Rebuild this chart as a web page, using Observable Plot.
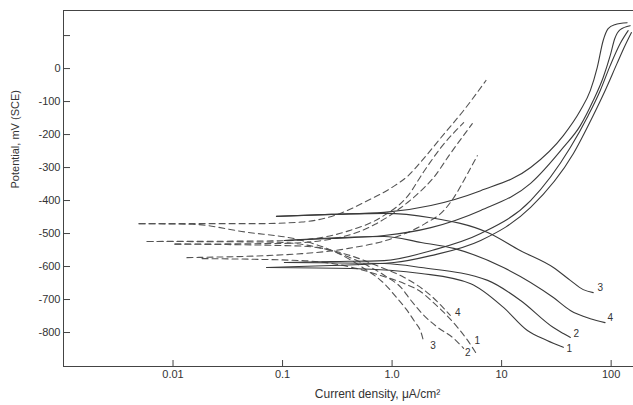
<!DOCTYPE html>
<html><head><meta charset="utf-8">
<script src="https://cdn.jsdelivr.net/npm/d3@7"></script>
<script src="https://cdn.jsdelivr.net/npm/@observablehq/plot@0.6"></script>
<style>body{margin:0;background:#fff;} svg{display:block}</style>
</head><body><div id="chart"></div>
<script>
// Tick values and labels
const xTicks = [0.01, 0.1, 1, 10, 100];
const xTickLabels = ["0.01", "0.1", "1.0", "10", "100"];
const yTicks = [-800, -700, -600, -500, -400, -300, -200, -100, 0, 100];

// Solid curves: [current density µA/cm², potential mV]
const solid1Anodic = [[0.0716,-603],[0.279,-597],[1.04,-588],[2.26,-567],[6.44,-521],[18.4,-421],[45.1,-258],[68.6,-142],[88,-67],[113,15],[134,70],[153,109]];
const solid1Cathodic = [[0.0716,-603],[0.424,-606],[1.84,-621],[5.23,-652],[10.4,-724],[17.2,-794],[26,-824],[36.6,-845]];
const solid2Anodic = [[0.104,-588],[0.279,-585],[0.846,-582],[2.26,-552],[6.44,-500],[18.4,-400],[42.4,-239],[61.8,-142],[79.4,-67],[98,9],[121,76],[143,115]];
const solid2Cathodic = [[0.104,-588],[0.846,-591],[1.84,-603],[7.46,-642],[14.9,-703],[29.7,-785],[36.6,-803],[42.4,-815]];
const solid3Anodic = [[0.088,-448],[0.279,-442],[0.846,-436],[2.26,-415],[6.44,-370],[18.4,-300],[36.6,-203],[52.3,-127],[64.5,-67],[74.6,3],[84.6,85],[93.9,121],[108,133],[140,139]];
const solid3Cathodic = [[0.088,-448],[0.279,-442],[0.846,-439],[2.26,-452],[7.46,-497],[14.9,-552],[29.7,-603],[42.4,-642],[55.6,-670],[68.6,-679]];
const solid4Anodic = [[0.104,-521],[0.279,-515],[0.846,-506],[2.26,-482],[6.44,-430],[18.4,-348],[36.6,-239],[52.3,-173],[68.6,-97],[84.6,-27],[98,39],[108,91],[121,118],[149,130]];
const solid4Cathodic = [[0.104,-521],[0.846,-509],[1.84,-527],[3.66,-545],[10.4,-603],[29.7,-694],[42.4,-733],[64.5,-758],[88,-770]];

// Dashed curves
const dashAAnodic = [[0.0049,-470],[0.06,-470],[0.15,-465],[0.3,-445],[0.6,-400],[1.0,-360],[1.4,-325],[1.95,-272],[3,-197],[4.5,-127],[7.2,-36]];
const dashBAnodic = [[0.0058,-524],[0.1,-522],[0.2,-515],[0.4,-492],[0.8,-450],[1.4,-385],[1.95,-312],[2.8,-239],[4.5,-164]];
const dashCAnodic = [[0.0104,-532],[0.1,-530],[0.3,-515],[0.7,-472],[1.2,-422],[1.72,-379],[2.4,-330],[3.4,-258],[5.4,-167]];
const dashDAnodic = [[0.0134,-573],[0.15,-561],[0.4,-545],[1.0,-515],[2.0,-470],[2.97,-430],[3.66,-391],[4.9,-318],[6.0,-264]];
const dash3Cathodic = [[0.0049,-470],[0.015,-472],[0.045,-495],[0.15,-521],[0.3,-555],[0.55,-605],[0.85,-652],[1.1,-694],[1.35,-730],[1.6,-766],[1.84,-800],[1.95,-830]];
const dash2Cathodic = [[0.0058,-524],[0.08,-526],[0.2,-540],[0.5,-585],[0.9,-632],[1.21,-664],[1.49,-703],[1.95,-748],[2.62,-785],[3.66,-818],[4.5,-848]];
const dash4Cathodic = [[0.0104,-532],[0.15,-538],[0.4,-565],[0.8,-603],[1.29,-633],[1.72,-658],[2.26,-688],[2.8,-718],[3.4,-748]];
const dash1Cathodic = [[0.0184,-576],[0.149,-582],[0.4,-600],[0.8,-628],[1.3,-652],[1.84,-677],[2.4,-710],[2.97,-739],[3.97,-785],[4.9,-824],[5.8,-861]];

// Curve number labels
const solidLabelText = ["1", "2", "3", "4"];
const solidLabelCurrent = [41.5, 48, 79.4, 98];
const solidLabelPotential = [-848, -803, -664, -755];
const dashLabelText = ["1", "2", "3", "4"];
const dashLabelCurrent = [6.0, 4.9, 2.36, 3.98];
const dashLabelPotential = [-824, -861, -839, -739];

const toRows = (series) => Object.entries(series).flatMap(([name, pts]) => pts.map(([i, E]) => ({name, i, E})));
const solidRows = toRows({solid1Anodic, solid1Cathodic, solid2Anodic, solid2Cathodic, solid3Anodic, solid3Cathodic, solid4Anodic, solid4Cathodic});
const dashRows = toRows({dashAAnodic, dashBAnodic, dashCAnodic, dashDAnodic, dash3Cathodic, dash2Cathodic, dash4Cathodic, dash1Cathodic});
const solidLabels = solidLabelText.map((t, k) => ({t, i: solidLabelCurrent[k], E: solidLabelPotential[k]}));
const dashLabels = dashLabelText.map((t, k) => ({t, i: dashLabelCurrent[k], E: dashLabelPotential[k]}));

const chart = Plot.plot({
  width: 633,
  height: 405,
  marginLeft: 63,
  marginRight: 0,
  marginTop: 10,
  marginBottom: 39,
  style: {fontFamily: "'Liberation Sans', Arial, sans-serif", fontSize: "11px", color: "#333", background: "white"},
  x: {type: "log", domain: [0.001, 160]},
  y: {domain: [-903, 176]},
  marks: [
    Plot.frame({anchor: "left", stroke: "#444"}),
    Plot.frame({anchor: "top", stroke: "#444"}),
    Plot.frame({anchor: "bottom", stroke: "#444"}),
    Plot.line(dashRows, {x: "i", y: "E", z: "name", curve: "monotone-x", stroke: "#555", strokeWidth: 1.1, strokeDasharray: "6,4", clip: true}),
    Plot.line(solidRows, {x: "i", y: "E", z: "name", curve: "monotone-x", stroke: "#3a3a3a", strokeWidth: 1.1, clip: true}),
    Plot.text(solidLabels, {x: "i", y: "E", text: "t", fontSize: 10, fill: "#333"}),
    Plot.text(dashLabels, {x: "i", y: "E", text: "t", fontSize: 10, fill: "#333"}),
    Plot.axisY(yTicks, {tickSize: -7, tickPadding: 10, tickFormat: d => d === 100 ? "" : String(d), label: null, stroke: "#444"}),
    Plot.axisX(xTicks, {tickSize: -6, tickPadding: 10, tickFormat: d => xTickLabels[xTicks.indexOf(d)], label: null, stroke: "#444"}),
    Plot.text(["Potential, mV (SCE)"], {frameAnchor: "left", rotate: -90, dx: -48, fontSize: 11, fill: "#333"}),
    Plot.text(["Current density, μA/cm²"], {frameAnchor: "bottom", dx: 29, dy: 31, fontSize: 12, fill: "#333"})
  ]
});
document.getElementById("chart").append(chart);
</script>
</body></html>
